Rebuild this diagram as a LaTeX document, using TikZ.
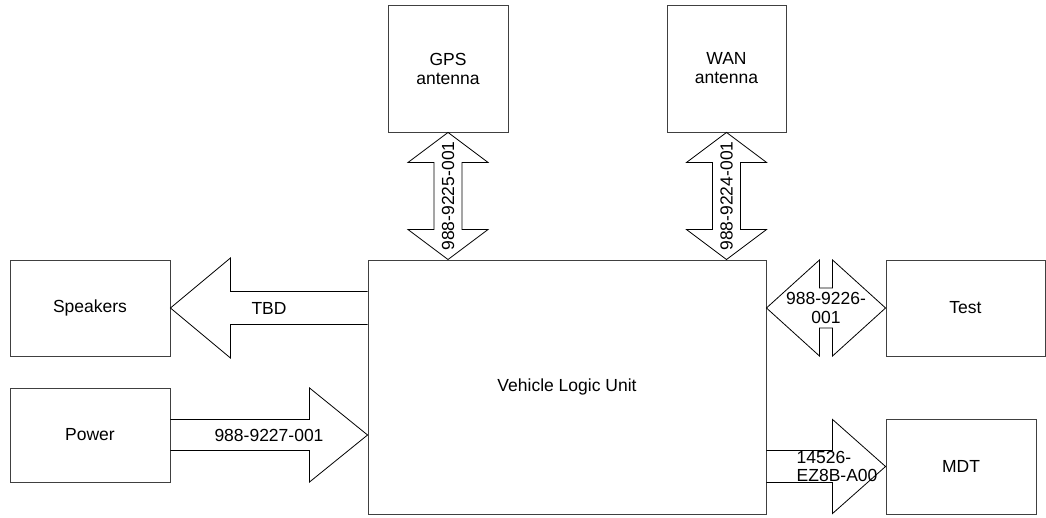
\documentclass[tikz,border=0pt]{standalone}
\usepackage{fontspec}
\setmainfont{Liberation Sans}
\usetikzlibrary{calc}

\tikzset{
  unit/.style={draw=black!75, line width=.9pt, align=center, inner sep=0pt,
    font=\fontsize{17.5}{19}\selectfont},
  port/.style={draw, line width=.8pt, line join=miter},
  tag/.style={align=center, inner sep=0pt, font=\fontsize{17.5}{18.5}\selectfont}
}

\newcommand{\BlockArrow}[5]{%
  \draw[port] ($(#1)+(0,#5)$) -- ($(#2)+({-(#3)},#5)$) -- ($(#2)+({-(#3)},#4)$) -- (#2)
    -- ($(#2)+({-(#3)},{-(#4)})$) -- ($(#2)+({-(#3)},{-(#5)})$) -- ($(#1)+(0,{-(#5)})$);}
\newcommand{\BothWaysH}[5]{%
  \draw[port] (#1) -- ($(#1)+(#3,#4)$) -- ($(#1)+(#3,#5)$) -- ($(#2)+({-(#3)},#5)$)
    -- ($(#2)+({-(#3)},#4)$) -- (#2) -- ($(#2)+({-(#3)},{-(#4)})$) -- ($(#2)+({-(#3)},{-(#5)})$)
    -- ($(#1)+(#3,{-(#5)})$) -- ($(#1)+(#3,{-(#4)})$) -- cycle;}
\newcommand{\BothWaysV}[5]{%
  \draw[port] (#1) -- ($(#1)+(#4,{-(#3)})$) -- ($(#1)+(#5,{-(#3)})$) -- ($(#2)+(#5,#3)$)
    -- ($(#2)+(#4,#3)$) -- (#2) -- ($(#2)+({-(#4)},#3)$) -- ($(#2)+({-(#5)},#3)$)
    -- ($(#1)+({-(#5)},{-(#3)})$) -- ($(#1)+({-(#4)},{-(#3)})$) -- cycle;}

\begin{document}
\begin{tikzpicture}[x=1pt,y=1pt]
\useasboundingbox (0,0) rectangle (1046,518);
\node[unit, minimum width=120pt, minimum height=127pt] (gps) at (448,449.5) {GPS\\antenna};
\node[unit, minimum width=119pt, minimum height=127pt] (wan) at (726.5,449.5) {WAN\\antenna};
\node[unit, minimum width=160pt, minimum height=96pt] (spk) at (90,210) {Speakers};
\node[unit, minimum width=160pt, minimum height=94pt] (pwr) at (90,83) {Power};
\node[unit, minimum width=398pt, minimum height=254pt] (vlu) at (567,131) {Vehicle Logic Unit};
\node[unit, minimum width=159pt, minimum height=96pt] (test) at (965.5,210) {Test};
\node[unit, minimum width=150pt, minimum height=95pt] (mdt) at (961,51.5) {MDT};

\coordinate (gpsin) at (gps.south |- vlu.north);
\coordinate (wanin) at (wan.south |- vlu.north);
\coordinate (spkout) at (vlu.west |- spk.east);
\coordinate (pwrin) at (vlu.west |- pwr.east);
\coordinate (testout) at (vlu.east |- test.west);
\coordinate (mdtout) at (vlu.east |- mdt.west);

\BothWaysV{gps.south}{gpsin}{30}{40}{14}
\BothWaysV{wan.south}{wanin}{30}{40}{14}
\BlockArrow{spkout}{spk.east}{-60}{50}{16.5}
\BlockArrow{pwr.east}{pwrin}{58}{47}{15.5}
\BothWaysH{testout}{test.west}{53}{48}{20}
\BlockArrow{mdtout}{mdt.west}{53}{47}{16}

\node[tag, rotate=90] (gpsno) at ($(gps.south)!.5!(gpsin)$) {988-9225-001};
\node[tag, rotate=90] (wanno) at ($(wan.south)!.5!(wanin)$) {988-9224-001};
\node[tag] (spkno) at ($(spk.east)!.5!(spkout)$) {TBD};
\node[tag] (pwrno) at ($(pwr.east)!.5!(pwrin)$) {988-9227-001};
\node[tag] (testno) at ($(testout)!.5!(test.west)$) {988-9226-\\001};
\node[tag, align=left, anchor=west] (mdtno) at ($(mdtout)+(30,0)$) {14526-\\EZ8B-A00};
\end{tikzpicture}
\end{document}
